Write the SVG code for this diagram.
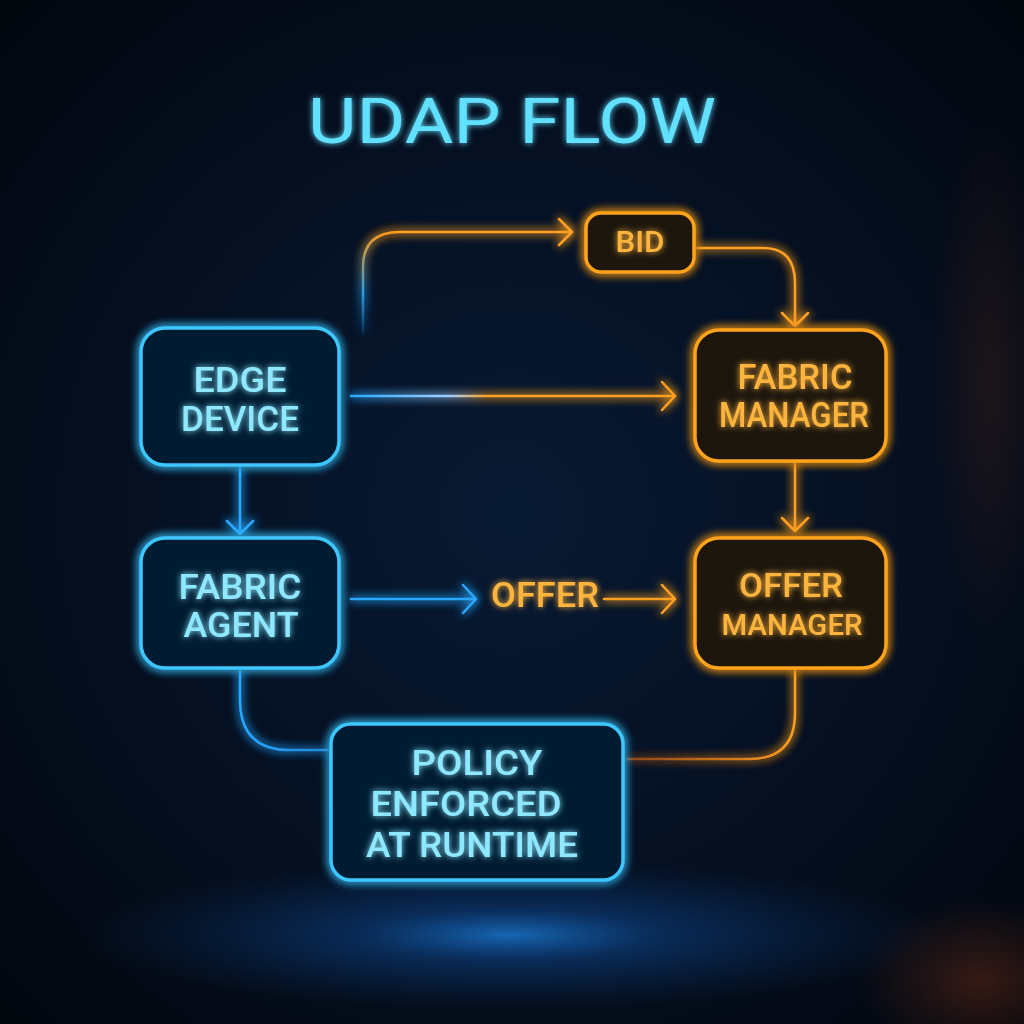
<svg xmlns="http://www.w3.org/2000/svg" width="1024" height="1024" viewBox="0 0 1024 1024">
<defs>
<radialGradient id="bg" cx="0.5" cy="0.5" r="0.72">
<stop offset="0" stop-color="#081a33"/>
<stop offset="0.55" stop-color="#050f20"/>
<stop offset="1" stop-color="#02060d"/>
</radialGradient>
<radialGradient id="floor" cx="0.5" cy="0.5" r="0.5">
<stop offset="0" stop-color="#1f8cf0" stop-opacity="0.7"/>
<stop offset="0.35" stop-color="#1160c0" stop-opacity="0.35"/>
<stop offset="1" stop-color="#0d4a9a" stop-opacity="0"/>
</radialGradient>
<radialGradient id="ember" cx="0.5" cy="0.5" r="0.5">
<stop offset="0" stop-color="#b8481a" stop-opacity="0.28"/>
<stop offset="1" stop-color="#b8481a" stop-opacity="0"/>
</radialGradient>
<linearGradient id="mix" x1="351" y1="0" x2="675" y2="0" gradientUnits="userSpaceOnUse">
<stop offset="0" stop-color="#2aa8ff"/>
<stop offset="0.3" stop-color="#9fd0ff"/>
<stop offset="0.42" stop-color="#ffa020"/>
<stop offset="1" stop-color="#ffa020"/>
</linearGradient>
<linearGradient id="topmix" x1="0" y1="333" x2="0" y2="232" gradientUnits="userSpaceOnUse">
<stop offset="0" stop-color="#1f7fd0" stop-opacity="0.2"/>
<stop offset="0.4" stop-color="#2a9be0"/>
<stop offset="1" stop-color="#ff9a18"/>
</linearGradient>
<linearGradient id="polL" x1="240" y1="0" x2="331" y2="0" gradientUnits="userSpaceOnUse">
<stop offset="0" stop-color="#2aa8ff"/>
<stop offset="1" stop-color="#1f86d8"/>
</linearGradient>
<linearGradient id="polR" x1="623" y1="0" x2="795" y2="0" gradientUnits="userSpaceOnUse">
<stop offset="0" stop-color="#c45a18" stop-opacity="0.6"/>
<stop offset="1" stop-color="#ffa020"/>
</linearGradient>
<filter id="glow" x="-30%" y="-30%" width="160%" height="160%">
<feGaussianBlur in="SourceGraphic" stdDeviation="5" result="b"/>
<feMerge><feMergeNode in="b"/><feMergeNode in="b"/><feMergeNode in="SourceGraphic"/></feMerge>
</filter>
<filter id="tglow" x="-20%" y="-40%" width="140%" height="180%">
<feGaussianBlur in="SourceGraphic" stdDeviation="3" result="b"/>
<feMerge><feMergeNode in="b"/><feMergeNode in="SourceGraphic"/></feMerge>
</filter>
<style>
.bbox{fill:#051a32;stroke:#3cc6ff;stroke-width:3.5}
.obox{fill:#1e1207;stroke:#ffa21c;stroke-width:3.5}
.bt{fill:#8ee8ff;font-family:Roboto,"Liberation Sans",Arial,sans-serif;font-weight:500;font-size:35px;text-anchor:middle}
.ot{fill:#ffb43c;font-family:Roboto,"Liberation Sans",Arial,sans-serif;font-weight:500;font-size:35px;text-anchor:middle}
.bl{fill:none;stroke:#2aa8ff;stroke-width:2.5;stroke-linecap:round;stroke-linejoin:round}
.ol{fill:none;stroke:#ffa020;stroke-width:2.5;stroke-linecap:round;stroke-linejoin:round}
</style>
</defs>
<rect width="1024" height="1024" fill="url(#bg)"/>
<ellipse cx="510" cy="935" rx="430" ry="75" fill="url(#floor)"/>
<ellipse cx="980" cy="980" rx="120" ry="80" fill="url(#ember)"/>
<ellipse cx="990" cy="380" rx="60" ry="260" fill="url(#ember)" opacity="0.5"/>

<text x="512" y="143" text-anchor="middle" font-family="Roboto,Liberation Sans,Arial,sans-serif" font-weight="400" font-size="63" textLength="408" lengthAdjust="spacingAndGlyphs" fill="#62e0ff" filter="url(#tglow)">UDAP FLOW</text>

<g id="connectors" filter="url(#glow)">
<path class="bl" d="M363 333 V267 Q363 232 400 232" style="stroke:url(#topmix)"/>
<path class="ol" d="M400 232 H572 M559 219 L572 232 L559 245"/>
<path class="ol" d="M697 248 H763 Q795 248 795 283 V326 M782 313 L795 326 L808 313"/>
<path class="bl" d="M351 396 H675" style="stroke:url(#mix)"/>
<path class="ol" d="M662 382 L675 396 L662 410"/>
<path class="bl" d="M240 466 V534 M227 521 L240 534 L253 521"/>
<path class="ol" d="M795 462 V531 M782 518 L795 531 L808 518"/>
<path class="bl" d="M351 599 H476 M463 585 L476 599 L463 613"/>
<path class="ol" d="M604 599 H675 M662 585 L675 599 L662 613"/>
<path class="bl" d="M240 670 V700 Q240 750 290 750 H328" style="stroke:url(#polL)"/>
<path class="ol" d="M795 670 V713 Q795 759 749 759 H627" style="stroke:url(#polR)"/>
</g>

<g id="edge-device">
<rect class="bbox" x="141" y="328" width="198" height="137" rx="24" filter="url(#glow)"/>
<text class="bt" x="240" y="392" textLength="93" lengthAdjust="spacingAndGlyphs" filter="url(#tglow)">EDGE</text>
<text class="bt" x="240" y="431" textLength="118" lengthAdjust="spacingAndGlyphs" filter="url(#tglow)">DEVICE</text>
</g>
<g id="fabric-agent">
<rect class="bbox" x="141" y="538" width="198" height="130" rx="24" filter="url(#glow)"/>
<text class="bt" x="240" y="599" textLength="123" lengthAdjust="spacingAndGlyphs" filter="url(#tglow)">FABRIC</text>
<text class="bt" x="241" y="637" textLength="115" lengthAdjust="spacingAndGlyphs" filter="url(#tglow)">AGENT</text>
</g>
<g id="bid">
<rect class="obox" x="586" y="213" width="108" height="59" rx="15" filter="url(#glow)"/>
<text class="ot" x="640" y="252" style="font-size:30px" textLength="49" lengthAdjust="spacingAndGlyphs" filter="url(#tglow)">BID</text>
</g>
<g id="fabric-manager">
<rect class="obox" x="695" y="330" width="191" height="131" rx="24" filter="url(#glow)"/>
<text class="ot" x="795" y="389" textLength="115" lengthAdjust="spacingAndGlyphs" filter="url(#tglow)">FABRIC</text>
<text class="ot" x="794" y="427" textLength="150" lengthAdjust="spacingAndGlyphs" filter="url(#tglow)">MANAGER</text>
</g>
<g id="offer-label">
<text class="ot" x="545" y="607" textLength="108" lengthAdjust="spacingAndGlyphs" filter="url(#tglow)">OFFER</text>
</g>
<g id="offer-manager">
<rect class="obox" x="695" y="538" width="191" height="130" rx="24" filter="url(#glow)"/>
<text class="ot" x="791" y="597" style="font-size:33px" textLength="104" lengthAdjust="spacingAndGlyphs" filter="url(#tglow)">OFFER</text>
<text class="ot" x="792" y="635" style="font-size:29px" textLength="141" lengthAdjust="spacingAndGlyphs" filter="url(#tglow)">MANAGER</text>
</g>
<g id="policy">
<rect class="bbox" x="331" y="724" width="292" height="156" rx="20" filter="url(#glow)"/>
<text class="bt" x="477" y="775" textLength="131" lengthAdjust="spacingAndGlyphs" filter="url(#tglow)">POLICY</text>
<text class="bt" x="466" y="816" textLength="191" lengthAdjust="spacingAndGlyphs" filter="url(#tglow)">ENFORCED</text>
<text class="bt" x="472" y="857" textLength="212" lengthAdjust="spacingAndGlyphs" filter="url(#tglow)">AT RUNTIME</text>
</g>
</svg>
